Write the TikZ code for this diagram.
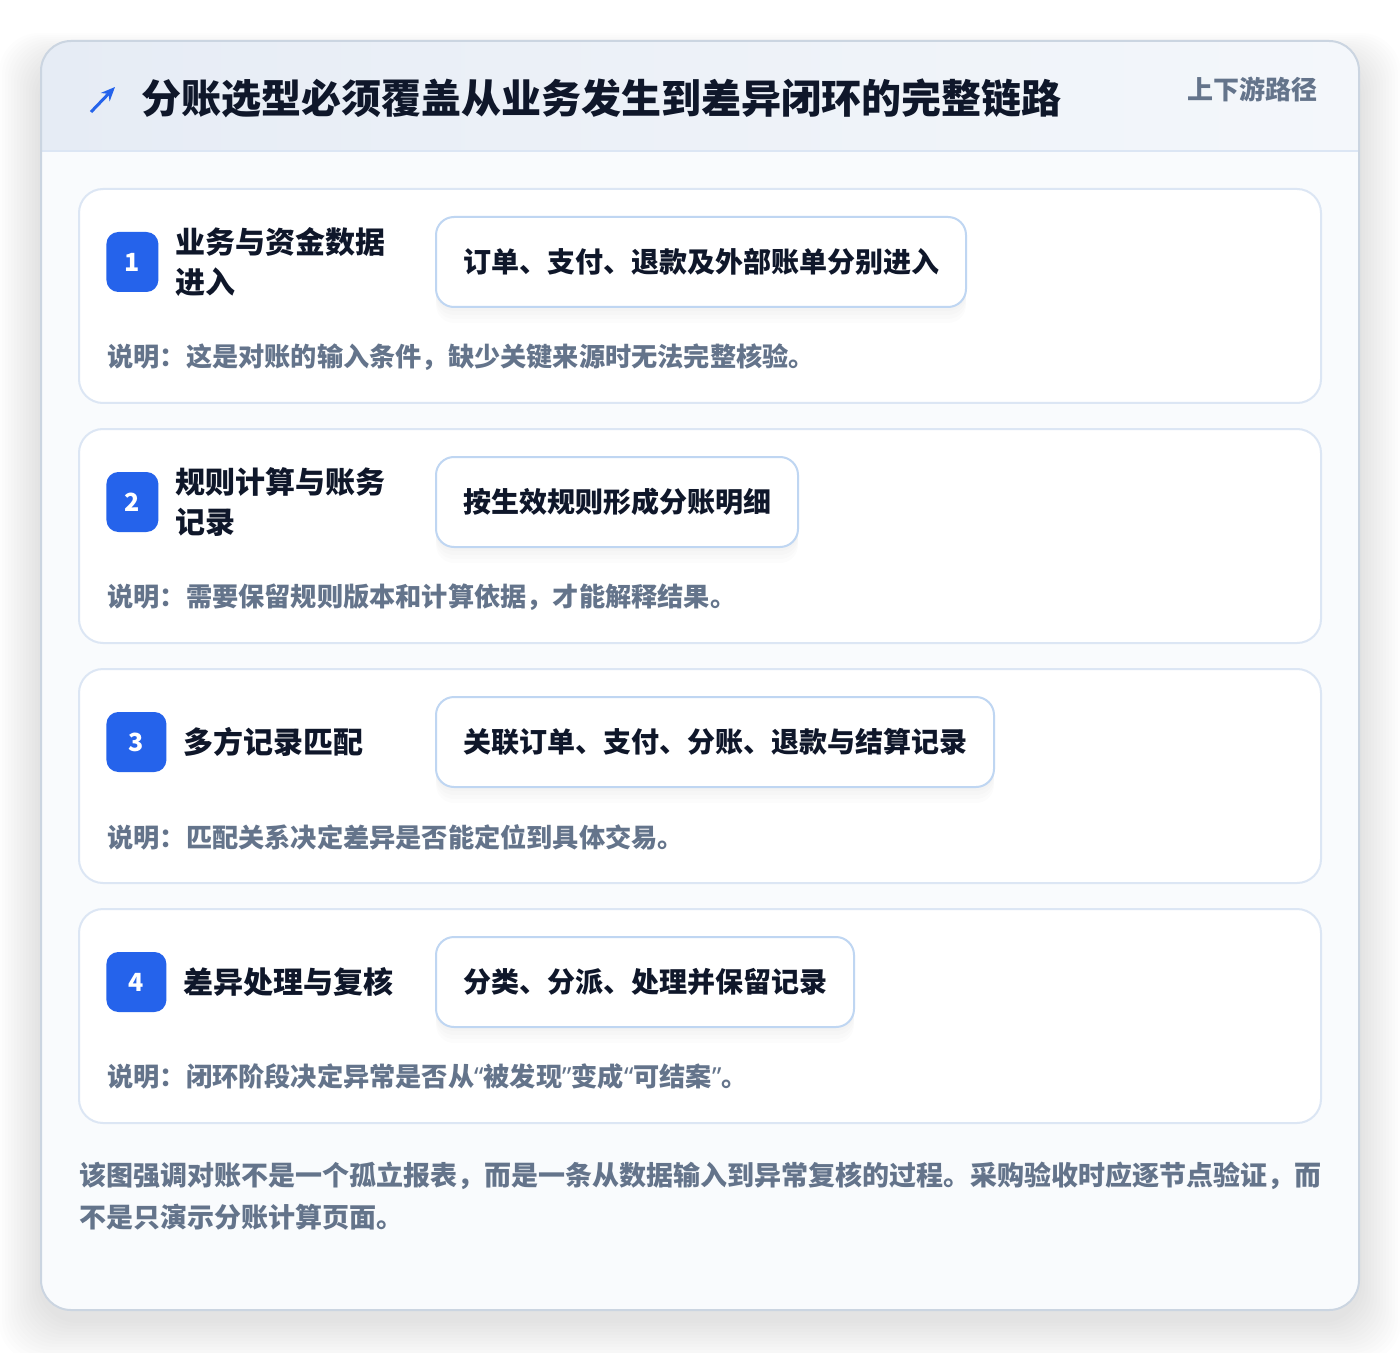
\documentclass[tikz,border=0pt]{standalone}
\usepackage{fontspec}
\setmainfont{Noto Sans CJK SC}
\newfontfamily\quotefont{Noto Sans}
\usetikzlibrary{positioning, arrows.meta}
\definecolor{ink}{HTML}{0F172A}
\definecolor{muted}{HTML}{64748B}
\definecolor{accent}{HTML}{2563EB}
\definecolor{cardline}{HTML}{DCE6F4}
\definecolor{boxline}{HTML}{BFD6F2}
\definecolor{frame}{HTML}{CBD5E1}
\definecolor{bodyfill}{HTML}{F9FBFD}
\definecolor{headA}{HTML}{E6ECF5}
\definecolor{headB}{HTML}{F4F7FB}
\newcommand{\openq}{{\quotefont “}}
\newcommand{\closeq}{{\quotefont ”}}
\tikzset{
  stepcard/.style={draw=cardline, line width=1pt, fill=white, rounded corners=12pt},
  badge/.style={fill=accent, rounded corners=6pt, text=white, inner sep=0pt,
    minimum height=30pt, font=\bfseries\fontsize{12.5}{12.5}\selectfont},
  steptitle/.style={align=left, inner sep=0pt, text=ink,
    font=\bfseries\fontsize{15}{20}\selectfont},
  detailbox/.style={draw=boxline, line width=1pt, fill=white, rounded corners=9pt,
    inner xsep=13.5pt, inner ysep=0pt, minimum height=45pt, text=ink,
    font=\bfseries\fontsize{14}{14}\selectfont,
    preaction={fill=black, fill opacity=0.012, transform canvas={yshift=-2pt}},
    preaction={fill=black, fill opacity=0.012, transform canvas={yshift=-4pt}},
    preaction={fill=black, fill opacity=0.012, transform canvas={yshift=-6pt}},
    preaction={fill=black, fill opacity=0.01, transform canvas={yshift=-8pt}}},
  notetext/.style={inner sep=0pt, text=muted, font=\bfseries\fontsize{13.1}{13.1}\selectfont}
}

\begin{document}
\begin{tikzpicture}[x=0.5pt, y=-0.5pt]
  \useasboundingbox (0,0) rectangle (1400,1352);
  \fill[white] (0,0) rectangle (1400,1352);

  % soft shadow under the card
  \foreach \k in {1,...,14}
    \fill[black, opacity=0.006, rounded corners=20pt]
      (41-3*\k, 61-2*\k) rectangle (1359+3*\k, 1320+3*\k);

  % card, header band
  \fill[bodyfill, rounded corners=15pt] (41,41) rectangle (1359,1310);
  \begin{scope}
    \clip[rounded corners=15pt] (41,41) rectangle (1359,1310);
    \shade[left color=headA, right color=headB] (41,41) rectangle (1359,151);
  \end{scope}
  \draw[cardline, line width=1pt] (41,151) -- (1359,151);
  \draw[frame, line width=1pt, rounded corners=15pt] (41,41) rectangle (1359,1310);

  \coordinate (icontail) at (91,112);
  \coordinate (iconhead) at (115,87);
  \draw[accent, line width=1.5pt, -{Stealth[length=7pt, width=6pt]}] (icontail) -- (iconhead);
  \node[anchor=west, inner sep=0pt, text=ink, font=\bfseries\fontsize{20}{20}\selectfont]
    (headline) at (141,98) {分账选型必须覆盖从业务发生到差异闭环的完整链路};
  \node[anchor=east, inner sep=0pt, text=muted, font=\bfseries\fontsize{13}{13}\selectfont]
    (headtag) at (1318,89) {上下游路径};

  % the four steps
  \foreach \i/\bw/\ttl/\dtl/\nt in {
    1/52/{业务与资金数据\\进入}/{订单、支付、退款及外部账单分别进入}/{说明：这是对账的输入条件，缺少关键来源时无法完整核验。},
    2/52/{规则计算与账务\\记录}/{按生效规则形成分账明细}/{说明：需要保留规则版本和计算依据，才能解释结果。},
    3/60/{多方记录匹配}/{关联订单、支付、分账、退款与结算记录}/{说明：匹配关系决定差异是否能定位到具体交易。},
    4/60/{差异处理与复核}/{分类、分派、处理并保留记录}/{说明：闭环阶段决定异常是否从\openq 被发现\closeq 变成\openq 可结案\closeq 。}} {
    \pgfmathsetmacro\t{189+240*(\i-1)}
    \draw[stepcard] (79,\t) rectangle (1321,\t+214);
    \node[badge, minimum width=\bw*0.5pt, anchor=west] (badge\i) at (106,\t+73) {\i};
    \node[steptitle, right=8pt of badge\i] (title\i) {\ttl};
    \node[detailbox, anchor=west] (box\i) at (435,\t+73) {\dtl};
    \node[notetext, anchor=west] (note\i) at (107,\t+168) {\nt};
  }

  \node[anchor=west, inner sep=0pt, align=left, text=muted,
    font=\bfseries\fontsize{13.5}{21}\selectfont] (summary) at (79,1196)
    {该图强调对账不是一个孤立报表，而是一条从数据输入到异常复核的过程。采购验收时应逐节点验证，而\\不是只演示分账计算页面。};
\end{tikzpicture}
\end{document}
